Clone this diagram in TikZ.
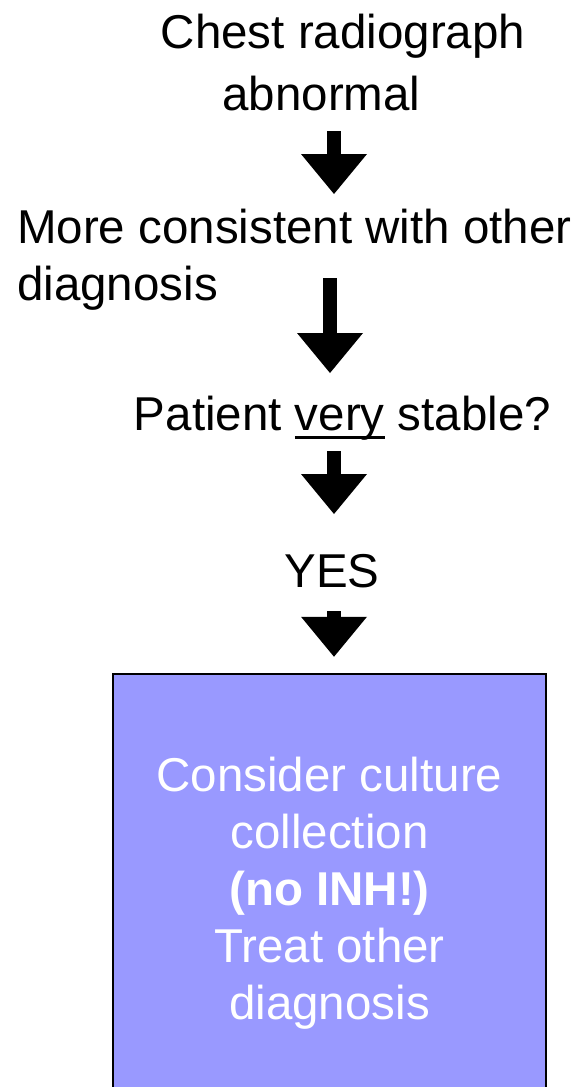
\documentclass[tikz,border=0pt]{standalone}
\usepackage{fontspec}
\setmainfont{Liberation Sans}
\usetikzlibrary{arrows.meta}
\definecolor{boxblue}{HTML}{9999FF}
\newlength\ulwd
\newcommand\ulword[1]{\settowidth\ulwd{#1}\rlap{\rule[-8.5pt]{\ulwd}{3pt}}#1}

\begin{document}
\begin{tikzpicture}[x=1pt, y=-1pt,
    txt/.style={inner sep=0pt, font=\fontsize{47.5pt}{57pt}\selectfont},
    blk/.style={line width=14pt, -{Triangle[width=66pt, length=40pt, line width=0pt]}}]
    \useasboundingbox (0,0) rectangle (580,1087);
    \coordinate (axis) at (334,0);
    \coordinate (axisb) at (330,0);

    \node[txt, anchor=base] (chest) at (343,48) {Chest radiograph};
    \node[txt, anchor=base] (abn) at (321.5,110) {abnormal};
    \node[txt, anchor=base west, align=left] (more) at (17,300) {More consistent with other\\diagnosis};
    \node[txt, anchor=base] (stable) at (342.5,430) {Patient \ulword{very} stable?};
    \node[txt, anchor=base] (yes) at (332,587) {YES};
    \node[txt, draw, line width=2.5pt, fill=boxblue, text=white, align=center,
        minimum width=433pt, minimum height=439pt] (act) at (329.5,893.5)
        {Consider culture\\collection\\\textbf{(no INH!)}\\Treat other\\diagnosis};

    \draw[blk, shorten <=21pt, shorten >=106pt] (abn.base -| axis) -- (more.base -| axis);
    \draw[blk, shorten <=-22pt, shorten >=57pt] (more.base -| axisb) -- (stable.base -| axisb);
    \draw[blk, shorten <=21pt, shorten >=73pt] (stable.base -| axis) -- (yes.base -| axis);
    \draw[blk, shorten <=24pt, shorten >=16pt] (yes.base -| axis) -- (act.north -| axis);
\end{tikzpicture}
\end{document}
